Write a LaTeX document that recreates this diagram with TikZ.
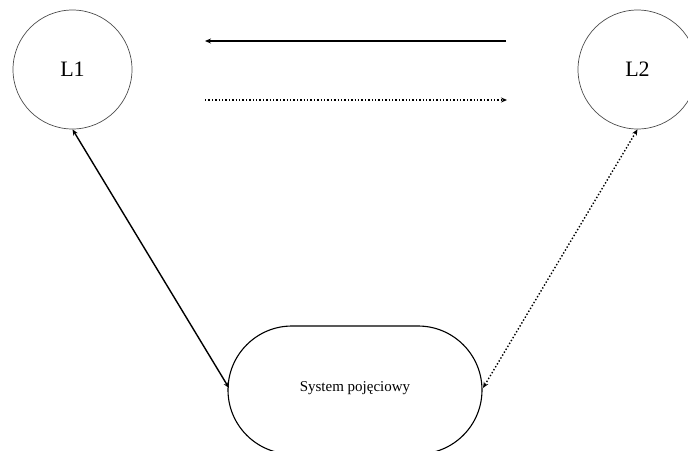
\documentclass[tikz,border=0pt]{standalone}
\usepackage{fontspec}
\setmainfont{Liberation Serif}
\usetikzlibrary{arrows.meta,shapes.misc}
\begin{document}
\begin{tikzpicture}[x=1pt,y=-1pt,
  lang/.style={circle,draw=black!70,line width=0.7pt,minimum size=119pt,inner sep=0pt,font=\fontsize{22}{26}\selectfont},
  sysbox/.style={rounded rectangle,draw=black,line width=1.1pt,minimum width=254pt,minimum height=128pt,inner sep=0pt},
  solidlink/.style={line width=1.4pt,{Stealth[length=6pt,width=5pt]}-{Stealth[length=6pt,width=5pt]}},
  dotlink/.style={line width=1.4pt,dotted,{Stealth[length=6pt,width=5pt]}-{Stealth[length=6pt,width=5pt]}},
  tip/.style={-{Stealth[length=6pt,width=5pt]}}]
\useasboundingbox (0,0) rectangle (688,450);
\node[lang] (l1) at (72.5,69.5) {L1};
\node[lang] (l2) at (637.5,69.5) {L2};
\node[sysbox] (sys) at (355,390) {};
\node[font=\fontsize{15}{18}\selectfont] (syslabel) at (355,388) {System pojęciowy};
% upper pair of one-way links between the languages
\coordinate (aR) at (506,41);
\coordinate (aL) at (205,41);
\coordinate (bL) at (205,100);
\coordinate (bR) at (507,100);
\draw[line width=1.4pt,tip] (aR) -- (aL);
\draw[line width=1.4pt,dotted,tip] (bL) -- (bR);
% links to the conceptual system
\coordinate (sysW) at (229,388);
\coordinate (sysE) at (483,388);
\draw[solidlink] (l1.south) -- (sysW);
\draw[dotlink] (sysE) -- (l2.south);
\end{tikzpicture}
\end{document}
